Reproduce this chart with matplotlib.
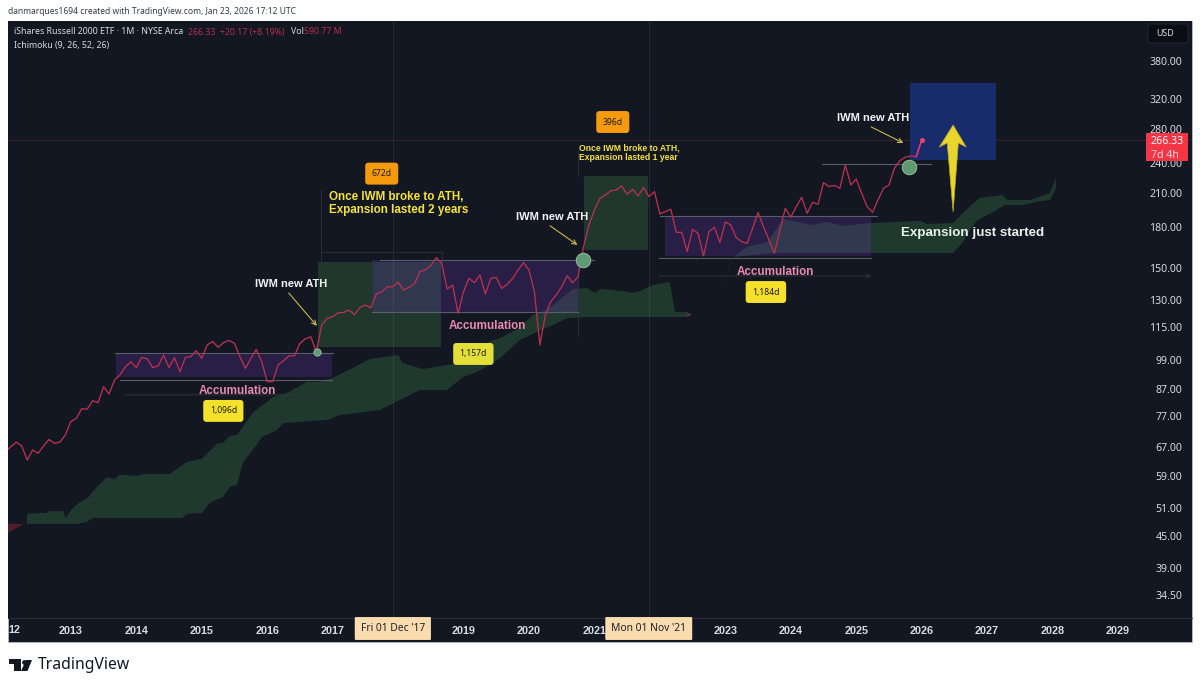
import numpy as np
import matplotlib
matplotlib.use('Agg')
import matplotlib.pyplot as plt
from matplotlib.patches import Rectangle, Polygon, FancyBboxPatch
from matplotlib.transforms import IdentityTransform

plt.rcParams['font.family'] = ['Noto Sans', 'DejaVu Sans']
BOLD = 'Liberation Sans'  # Noto Sans here has no bold face

BG = '#131722'
RED = '#b8324f'
GREEN = '#4da958'
PURPLE = '#7e3cd8'
PINK = '#e88ab0'
YELLOW = '#f5e33b'
AXIS_TXT = '#d8dbe2'

# monthly closes, Jan 2012 onwards
closes_2012_2018 = [65.7, 67.2, 68.6, 67.4, 63.3, 66.2, 65.2, 67.4, 69.4, 68.2, 68.6, 70.8,
                    75.2, 76.3, 79.7, 79.5, 82.6, 81.9, 88.0, 85.1, 90.6, 92.7, 96.2, 98.4,
                    95.9, 100.3, 99.7, 95.9, 96.5, 101.4, 95.9, 100.2, 94.1, 100.3, 100.7, 103.4,
                    99.9, 106.1, 107.8, 105.0, 107.2, 108.3, 106.9, 100.7, 95.5, 99.9, 104.0, 98.4,
                    90.0, 90.0, 97.0, 98.9, 101.0, 101.1, 106.9, 109.1, 110.1, 102.9, 116.0, 119.6,
                    120.5, 122.6, 122.8, 124.1, 121.6, 125.6, 126.9, 125.4, 133.4, 134.6, 137.8, 137.8,
                    140.8]
closes_2018_2021 = [135.8, 137.4, 139.5, 147.5, 148.6, 151.5, 157.1, 153.1, 136.4, 138.9, 122.3,
                    134.8, 143.1, 140.3, 145.3, 133.4, 143.1, 143.8, 136.8, 139.3, 143.1, 148.6, 153.6,
                    148.6, 134.8, 106.1, 121.4, 128.9, 132.8, 137.9, 144.8, 140.3, 144.2, 165.0, 181.9,
                    194.6, 205.0, 208.1, 212.2, 212.9, 216.7, 208.8, 213.5, 207.2, 215.4, 206.6]
closes_2021_2026 = [211.3, 191.2, 193.2, 195.2, 176.0, 176.0, 161.4, 178.4, 175.2, 158.3, 176.6, 180.0,
                    168.3, 184.4, 181.9, 171.8, 168.8, 167.5, 179.2, 192.3, 180.6, 170.1, 160.2, 177.9,
                    196.1, 188.3, 197.5, 206.0, 191.7, 201.4, 199.7, 220.0, 216.1, 217.3, 214.5, 238.2,
                    217.7, 223.7, 209.7, 197.5, 192.6, 203.6, 214.5, 217.7, 234.7, 242.9, 246.6, 248.0,
                    247.3, 266.33]
closes = closes_2012_2018 + closes_2018_2021 + closes_2021_2026
months = 2012 + np.arange(len(closes)) / 12

# ichimoku cloud edges
upper_t = [2012.33, 2012.63, 2012.68, 2012.88, 2012.92, 2013.02, 2013.14, 2013.26, 2013.40, 2013.55,
           2013.67, 2013.75, 2014.01, 2014.10, 2014.51, 2014.77, 2015.00, 2015.23, 2015.32, 2015.43,
           2015.54, 2015.78, 2016.09, 2016.30, 2016.61, 2016.81, 2017.00, 2017.31, 2017.57, 2018.00,
           2018.07, 2018.38, 2018.84, 2019.25, 2019.56, 2019.86, 2020.06, 2020.27, 2020.43, 2020.67,
           2020.89, 2021.01, 2021.09, 2021.44, 2021.57, 2021.70, 2021.90, 2022.15, 2022.23, 2022.41,
           2022.49, 2022.80, 2022.92, 2023.12, 2023.33, 2023.64, 2023.88, 2024.34, 2024.55, 2024.80,
           2025.21, 2025.98, 2026.08, 2026.48, 2026.69, 2026.89, 2027.23, 2027.31, 2027.66, 2027.84,
           2027.96, 2028.05]
upper_v = [49.7, 49.9, 50.3, 50.3, 48.8, 50.8, 52.4, 53.4, 56.1, 58.6,
           58.1, 59.2, 58.9, 59.4, 59.4, 62.7, 63.6, 68.0, 68.3, 70.5,
           70.8, 78.2, 84.0, 85.5, 89.9, 89.9, 91.5, 95.7, 99.6, 101.4,
           97.8, 95.2, 97.4, 106.1, 109.5, 114.6, 121.4, 124.1, 128.7, 136.5,
           137.0, 134.0, 136.5, 135.2, 134.0, 135.2, 139.0, 140.8, 123.0, 123.0,
           121.5, 123.0, 134.0, 157.5, 164.8, 168.5, 186.8, 181.9, 184.4, 181.1,
           183.5, 185.2, 182.7, 183.5, 195.4, 205.4, 208.1, 203.5, 203.5, 207.2,
           210.0, 224.7]
lower_t = [2012.33, 2013.09, 2013.24, 2013.34, 2014.70, 2014.77, 2015.00, 2015.12, 2015.32, 2015.43,
           2015.54, 2015.63, 2015.78, 2015.92, 2016.15, 2016.24, 2016.65, 2016.93, 2017.11, 2017.72,
           2018.03, 2018.33, 2018.75, 2018.99, 2019.21, 2019.56, 2019.86, 2020.12, 2020.37, 2020.58,
           2020.89, 2022.41, 2022.49, 2022.80, 2022.92, 2023.07, 2023.12, 2023.73, 2026.48, 2026.63,
           2026.74, 2026.85, 2027.09, 2027.27, 2027.54, 2027.81, 2027.96, 2028.05]
lower_v = [47.5, 47.5, 47.9, 48.8, 48.8, 49.7, 49.9, 52.2, 53.6, 56.1,
           56.6, 62.7, 66.2, 70.2, 72.4, 74.7, 75.4, 75.8, 77.5, 79.2,
           82.9, 86.7, 86.7, 91.9, 94.0, 100.1, 108.5, 112.5, 116.1, 119.7,
           120.3, 120.3, 121.5, 123.0, 134.0, 152.0, 157.5, 160.4, 160.4, 168.5,
           177.8, 186.0, 192.9, 199.0, 199.0, 202.6, 203.5, 214.8]

price_ticks = [380, 320, 280, 240, 210, 180, 150, 130, 115, 99, 87, 77, 67, 59, 51, 45, 39, 34.5]
year_ticks = list(range(2013, 2030))
hidden_years = [2018, 2022]  # sit under the crosshair date tags

# (x0, x1, low, high)
accum_boxes = [(2013.69, 2016.99, 91.9, 102.3), (2017.60, 2020.75, 123.0, 155.2), (2022.08, 2025.23, 158.2, 188.6)]
expansion_boxes = [(2016.78, 2018.65, 105.1, 154.1), (2020.84, 2021.82, 162.6, 226.7)]
target_box = (2025.82, 2027.14, 243.6, 343.5)
# (x0, x1, price)
range_lines = [(2013.67, 2017.00, 102.3), (2013.75, 2016.99, 90.7), (2017.72, 2020.99, 155.2), (2017.60, 2020.75, 123.0),
               (2022.00, 2025.32, 189.4), (2021.99, 2025.23, 156.8), (2024.48, 2026.14, 239.3)]
accum_labels = [(2015.54, 86.3), (2019.36, 115.6), (2023.77, 147.5)]
# x0, x1, price
accum_arrows = [(2013.83, 2016.84, 84.8), (2021.99, 2025.23, 144.7)]
day_badges = [('1,096d', 2015.33, 78.9, '#f5e12b'), ('1,157d', 2019.15, 101.9, '#e4df38'), ('1,184d', 2023.62, 134.6, '#f5e12b'),
              ('672d', 2017.75, 229.1, '#f59a0c'), ('396d', 2021.28, 288.9, '#f59a0c')]
# label x, label y, arrow start x, y, arrow end x, y
ath_notes = [(2016.36, 139.5, 2016.33, 134.0, 2016.76, 115.6), (2020.35, 188.8, 2020.32, 181.3, 2020.74, 166.3),
             (2025.26, 294.2, 2025.23, 282.5, 2025.72, 262.9)]
ath_dots = [(2016.76, 102.9, 5), (2020.83, 155.2, 10), (2025.81, 236.4, 10)]
big_arrow_t = [2026.48, 2026.68, 2026.56, 2026.48, 2026.39, 2026.27]
big_arrow_v = [285.0, 258.2, 262.9, 192.9, 262.9, 258.2]


def fx(px):
    return px / 1200


def fy(py):
    return 1 - py / 688


fig = plt.figure(figsize=(12, 6.88), dpi=100, facecolor='white')
fig.add_artist(Rectangle((fx(8), fy(642)), fx(1184), 621 / 688, transform=fig.transFigure,
                         facecolor=BG, edgecolor='#b8bdc8', lw=0.6, zorder=-1))
ax = fig.add_axes([fx(8), fy(618), fx(1184), 597 / 688])
ax.set_facecolor(BG)
ax.set_yscale('log')
ax.set_xlim(2012.04, 2030.13)
ax.set_ylim(31.12, 454.8)
for s in ['top', 'left', 'right']:
    ax.spines[s].set_visible(False)
ax.spines['bottom'].set_color('#2a2e39')
ax.spines['bottom'].set_linewidth(0.7)

ax.set_xticks(year_ticks)
ax.set_xticklabels(['' if y in hidden_years else str(y) for y in year_ticks], fontsize=7.8, color=AXIS_TXT,
                   family=BOLD, fontweight='bold')
ax.tick_params(axis='x', length=0, pad=6)
ax.yaxis.tick_right()
ax.set_yticks(price_ticks)
ax.set_yticklabels(['%.2f' % p for p in price_ticks], fontsize=7.6, color=AXIS_TXT, ha='right')
ax.minorticks_off()
ax.tick_params(axis='y', length=0, pad=-7, which='both')

xtrans = ax.get_xaxis_transform()
ax.text(2012.05, -0.0205, '12', transform=xtrans, fontsize=7.8, color=AXIS_TXT, family=BOLD, fontweight='bold',
        va='center', ha='left', clip_on=False)

# crosshairs and last price line
for t in [2017.92, 2021.83]:
    ax.axvline(t, color='#262a35', lw=0.7, zorder=0.5)
ax.axhline(closes[-1], color='#3a2230', lw=0.7, zorder=0.5)

# cloud
ax.fill(np.r_[upper_t, lower_t[::-1]], np.r_[upper_v, lower_v[::-1]], color=GREEN, alpha=0.24, lw=0, zorder=1)
ax.fill([2012.04, 2012.28, 2012.04], [47.5, 47.5, 45.6], color='#b3263f', alpha=0.4, lw=0, zorder=1)
ax.fill([2022.41, 2022.49, 2022.41], [123.0, 121.5, 120.3], color='#b3263f', alpha=0.4, lw=0, zorder=1)

# drawn boxes
for x0, x1, lo, hi in expansion_boxes:
    ax.add_patch(Rectangle((x0, lo), x1 - x0, hi - lo, facecolor=GREEN, alpha=0.22, lw=0, zorder=1.2))
for x0, x1, lo, hi in accum_boxes:
    ax.add_patch(Rectangle((x0, lo), x1 - x0, hi - lo, facecolor=PURPLE, alpha=0.2, lw=0, zorder=1.3))
ax.add_patch(Rectangle((target_box[0], target_box[2]), target_box[1] - target_box[0], target_box[3] - target_box[2],
                       facecolor='#182c6c', lw=0, zorder=1.3))

for x0, x1, p in range_lines:
    ax.plot([x0, x1], [p, p], color='#5a5e6a', lw=0.8, zorder=1.5)

# faint date range frames
for t, lo, hi in [(2016.82, 154.1, 212.9), (2018.67, 154.1, 161.1), (2017.60, 110.5, 155.2), (2020.75, 110.5, 155.2), (2020.75, 226.7, 254.8)]:
    ax.plot([t, t], [lo, hi], color='#2b2f3b', lw=0.7, zorder=1.4)
ax.plot([2016.82, 2018.67], [161.1, 161.1], color='#2b2f3b', lw=0.7, zorder=1.4)

# price
ax.plot(months, closes, color=RED, lw=0.95, zorder=3, solid_joinstyle='round')
ax.plot(months[-2:], closes[-2:], color='#e8356a', lw=1.1, zorder=3.1)
ax.plot(months[-1:], closes[-1:], 'o', ms=2.6, color='#f0406f', zorder=3.2)

for t, v, ms in ath_dots:
    ax.plot([t], [v], 'o', ms=ms * 1.05, mfc='#5f9a72', mec='#9fc4aa', mew=0.6, zorder=4)

for x0, x1, p in accum_arrows:
    ax.annotate('', xy=(x1, p), xytext=(x0, p), zorder=1.6,
                arrowprops=dict(arrowstyle='->', color='#30343e', lw=0.7, mutation_scale=7, shrinkA=0, shrinkB=0))
for tx, ty in accum_labels:
    ax.text(tx, ty, 'Accumulation', color=PINK, fontsize=8.4, family=BOLD, fontweight='bold', ha='center', va='center', zorder=5)

for txt, t, v, col in day_badges:
    ax.text(t, v, txt, fontsize=6.2, color='#1a1a1a', ha='center', va='center', zorder=6,
            bbox=dict(boxstyle='round,pad=0.75,rounding_size=0.35', fc=col, ec='none'))

for tx, ty, x0, y0, x1, y1 in ath_notes:
    ax.text(tx, ty, 'IWM new ATH', color='#f2f3f5', fontsize=8.0, family=BOLD, fontweight='bold', ha='center', va='center', zorder=6)
    ax.annotate('', xy=(x1, y1), xytext=(x0, y0), zorder=5,
                arrowprops=dict(arrowstyle='->', color='#c9b84a', lw=0.8, mutation_scale=8, shrinkA=0, shrinkB=0))

ax.text(2016.94, 200.4, 'Once IWM broke to ATH,\nExpansion lasted 2 years', color=YELLOW, fontsize=8.4,
        family=BOLD, fontweight='bold', ha='left', va='center', linespacing=1.05, zorder=6)
ax.text(2020.76, 251.9, 'Once IWM broke to ATH,\nExpansion lasted 1 year', color=YELLOW, fontsize=6.2,
        family=BOLD, fontweight='bold', ha='left', va='center', linespacing=1.05, zorder=6)
ax.text(2026.78, 175.5, 'Expansion just started', color='#e6f4ea', fontsize=9.6, family=BOLD, fontweight='bold',
        ha='center', va='center', zorder=6)

ax.add_patch(Polygon(np.column_stack([big_arrow_t, big_arrow_v]), closed=True, facecolor='#e8d62c', edgecolor='#b9a92a', lw=0.5, zorder=5))

# last price tag
ax.add_patch(Rectangle((2029.43, 242.5), 0.64, 32.5, facecolor='#f23645', lw=0, zorder=7, clip_on=False))
ax.text(2029.5, 264.5, '266.33', color='white', fontsize=7.6, ha='left', va='center', zorder=8)
ax.text(2029.5, 248.5, '7d 4h', color='#ffd6da', fontsize=7.6, ha='left', va='center', zorder=8)

# crosshair date tags
for t, lab in [(2017.92, "Fri 01 Dec '17"), (2021.83, "Mon 01 Nov '21")]:
    ax.text(t, -0.0176, lab, transform=xtrans, fontsize=7.4, color='#1e222d', ha='center', va='center', zorder=9, clip_on=False,
            bbox=dict(boxstyle='round,pad=0.58,rounding_size=0.1', fc='#fbdcae', ec='none'))

# header
fig.text(fx(8), fy(11.5), 'danmarques1694 created with TradingView.com, Jan 23, 2026 17:12 UTC', fontsize=6.1, color='#333a45', va='center')
fig.text(fx(14), fy(32), 'iShares Russell 2000 ETF · 1M · NYSE Arca', fontsize=6.3, color=AXIS_TXT, va='center')
fig.text(fx(188), fy(32), '266.33  +20.17 (+8.19%)', fontsize=6.3, color='#b5304a', va='center')
fig.text(fx(291), fy(32), 'Vol', fontsize=6.3, color=AXIS_TXT, va='center')
fig.text(fx(304), fy(32), '590.77 M', fontsize=6.3, color='#b5304a', va='center')
fig.text(fx(14), fy(45.5), 'Ichimoku (9, 26, 52, 26)', fontsize=6.3, color=AXIS_TXT, va='center')

# currency button
fig.add_artist(FancyBboxPatch((1150, 688 - 41), 36, 15, boxstyle='round,pad=2,rounding_size=3', transform=IdentityTransform(),
                              facecolor='#0b0d12', edgecolor='#262a33', lw=0.6, zorder=5))
fig.text(fx(1156), fy(33), 'USD', fontsize=6.4, color=AXIS_TXT, va='center', zorder=6)

# footer logo
ink = '#131722'
for pts in [[(9, 659), (21, 659), (21, 671), (14, 671), (14, 664), (9, 664)], [(26, 660), (32, 660), (27.5, 671), (21, 671)]]:
    fig.add_artist(Polygon([(fx(a), fy(b)) for a, b in pts], closed=True, transform=fig.transFigure, facecolor=ink, lw=0))
fig.add_artist(plt.Line2D([fx(23.6)], [fy(661.5)], marker='o', ms=3.4, color=ink, mew=0, transform=fig.transFigure))
fig.text(fx(37.5), fy(665), 'TradingView', fontsize=11.3, color=ink, va='center')

fig.savefig('out.png', dpi=100)
